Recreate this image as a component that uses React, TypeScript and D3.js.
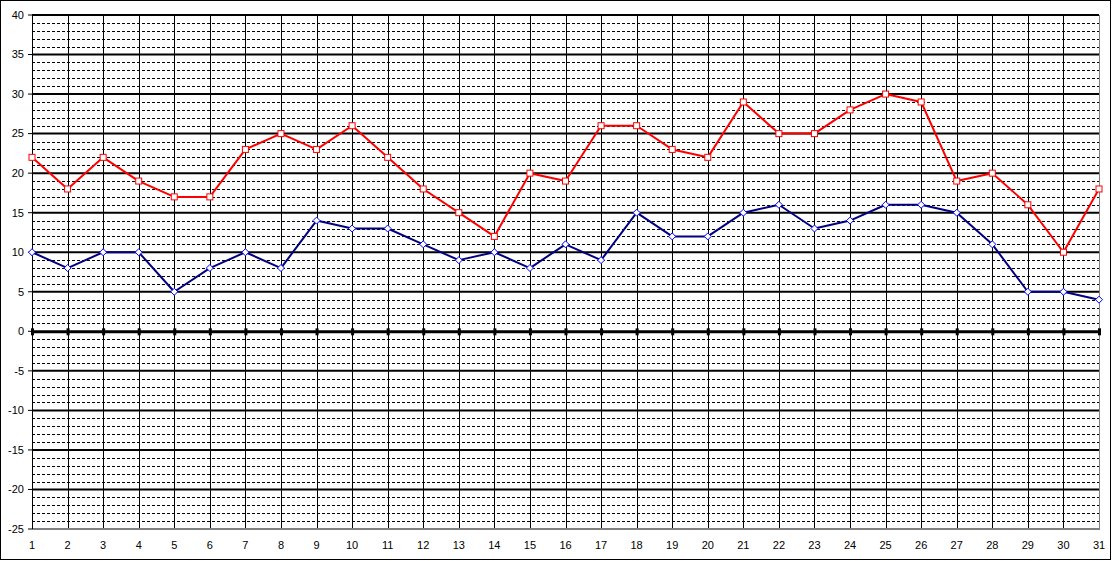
import React from "react";
import * as d3 from "d3";

const days: number[] = Array.from({ length: 31 }, (_, i) => i + 1);
const redValues: number[] = [22, 18, 22, 19, 17, 17, 23, 25, 23, 26, 22, 18, 15, 12, 20, 19, 26, 26, 23, 22, 29, 25, 25, 28, 30, 29, 19, 20, 16, 10, 18];
const blueValues: number[] = [10, 8, 10, 10, 5, 8, 10, 8, 14, 13, 13, 11, 9, 10, 8, 11, 9, 15, 12, 12, 15, 16, 13, 14, 16, 16, 15, 11, 5, 5, 4];
const yMajorTicks: number[] = [40, 35, 30, 25, 20, 15, 10, 5, 0, -5, -10, -15, -20, -25];
const yMin = -25;
const yMax = 40;

const W = 1112;
const H = 561;
const left = 32;
const right = 1099;
const top = 15;
const bottom = 529;

export default function App() {
  const x = d3.scaleLinear().domain([1, 31]).range([left, right]);
  const y = d3.scaleLinear().domain([yMin, yMax]).range([bottom, top]);
  const minor = d3.range(yMin, yMax + 1).filter((v) => v % 5 !== 0);
  const line = d3
    .line<number>()
    .x((_, i) => x(days[i]))
    .y((d) => y(d));
  const font = "'Liberation Sans', Arial, sans-serif";
  return (
    <svg width={W} height={H} style={{ position: "absolute", left: 0, top: 0, background: "#fff" }}>
      <rect x={0.5} y={0.5} width={W - 2} height={H - 2} fill="#fff" stroke="#000" strokeWidth={1} />
      {/* minor dashed gridlines */}
      {minor.map((v) => (
        <line key={"m" + v} x1={left} x2={right} y1={Math.round(y(v)) + 0.5} y2={Math.round(y(v)) + 0.5} stroke="#000" strokeWidth={1} strokeDasharray="3,2" />
      ))}
      {/* vertical gridlines */}
      {days.map((d) => (
        <line key={"v" + d} x1={Math.round(x(d)) + 0.5} x2={Math.round(x(d)) + 0.5} y1={top} y2={bottom} stroke="#000" strokeWidth={1} />
      ))}
      {/* major gridlines */}
      {yMajorTicks.filter((v) => v !== 0 && v !== yMin).map((v) => (
        <line key={"M" + v} x1={left} x2={right} y1={y(v)} y2={y(v)} stroke="#000" strokeWidth={2} />
      ))}
      {/* plot border right/bottom gray */}
      <line x1={right + 0.5} x2={right + 0.5} y1={top} y2={bottom} stroke="#808080" strokeWidth={1} />
      <line x1={left} x2={right + 1} y1={bottom} y2={bottom} stroke="#808080" strokeWidth={2} />
      {/* y axis */}
      <line x1={left + 0.5} x2={left + 0.5} y1={top} y2={bottom} stroke="#000" strokeWidth={1} />
      {yMajorTicks.map((v) => (
        <g key={"t" + v}>
          <line x1={left - 4} x2={left} y1={y(v)} y2={y(v)} stroke="#000" strokeWidth={1} />
          <text x={24} y={y(v)} dy="0.35em" textAnchor="end" fontFamily={font} fontSize={11} fill="#000">
            {v}
          </text>
        </g>
      ))}
      {/* zero line with ticks */}
      <line x1={left} x2={right} y1={y(0) + 0.5} y2={y(0) + 0.5} stroke="#000" strokeWidth={3} />
      {days.map((d) => (
        <line key={"z" + d} x1={x(d) + 0.5} x2={x(d) + 0.5} y1={y(0) - 3} y2={y(0) + 4} stroke="#000" strokeWidth={3} />
      ))}
      {/* x labels */}
      {days.map((d) => (
        <text key={"x" + d} x={x(d)} y={545} dy="0.35em" textAnchor="middle" fontFamily={font} fontSize={11} fill="#000">
          {d}
        </text>
      ))}
      {/* series */}
      <path d={line(blueValues) || ""} fill="none" stroke="#000080" strokeWidth={2} strokeLinejoin="round" />
      <path d={line(redValues) || ""} fill="none" stroke="#ff0000" strokeWidth={2} strokeLinejoin="round" />
      {blueValues.map((v, i) => {
        const cx = x(days[i]);
        const cy = y(v);
        return (
          <path key={"b" + i} d={`M${cx},${cy - 3.5}L${cx + 3.5},${cy}L${cx},${cy + 3.5}L${cx - 3.5},${cy}Z`} fill="#fff" stroke="#0000ff" strokeWidth={1} />
        );
      })}
      {redValues.map((v, i) => (
        <rect key={"r" + i} x={x(days[i]) - 3} y={y(v) - 3} width={6} height={6} fill="#fff" stroke="#ff0000" strokeWidth={1} />
      ))}
    </svg>
  );
}
